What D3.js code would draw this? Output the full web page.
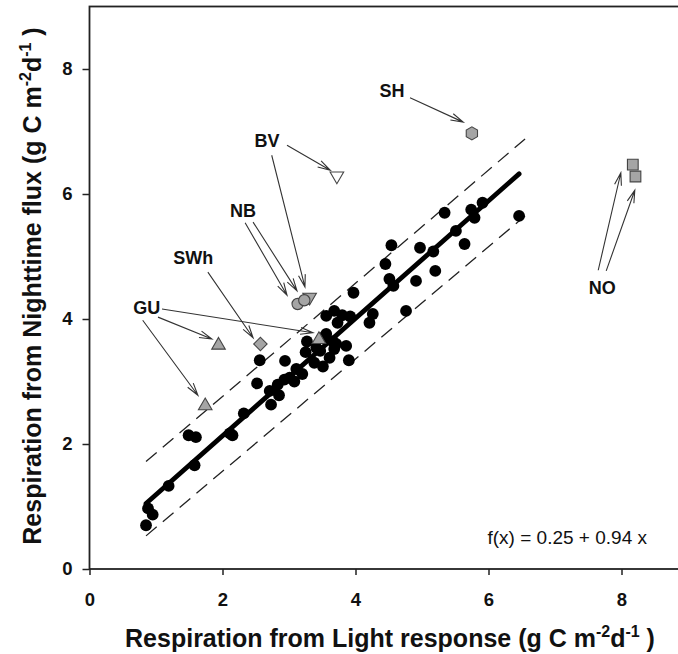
<!DOCTYPE html>
<html>
<head>
<meta charset="utf-8">
<script src="https://cdn.jsdelivr.net/npm/d3@7"></script>
<style>
  html, body { margin: 0; padding: 0; background: #fff; }
  svg { display: block; font-family: "Liberation Sans", Arial, sans-serif; }
</style>
</head>
<body>
<svg id="chart" width="678" height="654"></svg>
<script>
// ---------- data ----------
const xTicks = [0, 2, 4, 6, 8];
const yTicks = [0, 2, 4, 6, 8];

// black site-years: [light response, nighttime flux]
const lightResp = [0.88,0.95,0.85,1.19,1.58,1.49,1.60,2.11,2.15,2.32,2.73,2.71,2.83,2.52,2.93,3.08,2.56,2.94,3.11,3.27,
  3.25,3.47,3.51,3.56,3.66,3.86,3.90,3.56,3.68,3.80,3.92,3.97,4.21,4.26,4.45,4.51,4.57,4.54,4.91,4.76,
  4.97,5.17,5.20,5.34,5.64,5.51,5.74,5.79,5.91,6.46,3.71,3.51,3.01,3.41,3.61,3.68,3.73,2.85,3.20,3.38];
const nightFlux = [0.97,0.87,0.70,1.33,1.66,2.14,2.11,2.17,2.14,2.49,2.63,2.85,2.95,2.97,3.03,3.00,3.34,3.33,3.20,3.64,
  3.47,3.49,3.24,3.76,3.64,3.57,3.34,4.05,4.13,4.06,4.04,4.42,3.94,4.08,4.88,4.64,4.53,5.18,4.61,4.13,
  5.14,5.08,4.77,5.70,5.20,5.41,5.75,5.62,5.86,5.65,3.60,3.70,3.06,3.54,3.38,3.52,3.94,2.78,3.12,3.30];

// outlier sites
const outSite  = ["SH","BV","BV","NB","NB","SWh","GU","GU","GU","NO","NO"];
const outShape = ["hexagon","triDown","triDown","circle","circle","diamond","triUp","triUp","triUp","square","square"];
const outFill  = ["grey","white","grey","grey","grey","grey","grey","grey","grey","grey","grey"];
const outX     = [5.75, 3.72, 3.31, 3.13, 3.23, 2.57, 1.94, 1.74, 3.45, 8.17, 8.21];
const outY     = [6.97, 6.29, 4.35, 4.24, 4.30, 3.60, 3.58, 2.61, 3.67, 6.47, 6.28];

// regression and band
const fitIntercept = 0.25, fitSlope = 0.94, fitRange = [0.85, 6.46];
const bandUpper = [[0.85, 1.72], [6.55, 6.88]];
const bandLower = [[0.85, 0.53], [6.55, 5.65]];

// annotation labels (data coords) and arrows (from -> to, data coords)
const labelText = ["SH","BV","NB","SWh","GU","NO"];
const labelX    = [4.55, 2.67, 2.31, 1.56, 0.86, 7.71];
const labelY    = [7.66, 6.86, 5.74, 4.98, 4.18, 4.51];
const arrowFrom = [[4.82,7.54],[2.97,6.78],[2.74,6.62],[2.34,5.54],[2.46,5.55],[1.78,4.75],[1.09,4.16],[1.03,4.03],[0.80,3.98],[7.65,4.78],[7.77,4.77]];
const arrowTo   = [[5.62,7.15],[3.62,6.38],[3.24,4.51],[2.97,4.38],[3.12,4.45],[2.46,3.70],[3.36,3.78],[1.84,3.68],[1.63,2.78],[7.99,6.34],[8.20,6.06]];

// ---------- drawing ----------
const svg = d3.select("#chart");
const x = d3.scaleLinear().domain([0, 9]).range([89.5, 688]);
const y = d3.scaleLinear().domain([0, 9]).range([569, 6.5]);

// frame
svg.append("rect")
  .attr("x", x(0)).attr("y", y(9))
  .attr("width", x(9) - x(0)).attr("height", y(0) - y(9))
  .attr("fill", "none").attr("stroke", "#222").attr("stroke-width", 1.8);

// axes
const xAxis = svg.append("g").attr("transform", `translate(0,${y(0)})`)
  .call(d3.axisBottom(x).tickValues(xTicks).tickSize(6).tickSizeOuter(0).tickPadding(18).tickFormat(d3.format("d")));
const yAxis = svg.append("g").attr("transform", `translate(${x(0)},0)`)
  .call(d3.axisLeft(y).tickValues(yTicks).tickSize(7).tickSizeOuter(0).tickPadding(10).tickFormat(d3.format("d")));
[xAxis, yAxis].forEach(g => {
  g.select(".domain").remove();
  g.selectAll(".tick line").attr("stroke", "#222").attr("stroke-width", 1.5);
  g.selectAll(".tick text").attr("fill", "#111").style("font-size", "18.5px").style("font-weight", "bold")
    .style("font-family", '"Liberation Sans", Arial, sans-serif');
});

// axis titles
const xt = svg.append("text").attr("x", 390).attr("y", 647).attr("text-anchor", "middle")
  .style("font-size", "25px").style("font-weight", "bold").attr("fill", "#111");
xt.append("tspan").text("Respiration from Light response (g C m");
xt.append("tspan").attr("dy", -10).style("font-size", "16px").text("-2");
xt.append("tspan").attr("dy", 10).text("d");
xt.append("tspan").attr("dy", -10).style("font-size", "16px").text("-1");
xt.append("tspan").attr("dy", 10).text(" )");

const yt = svg.append("text").attr("transform", "translate(41,286) rotate(-90)").attr("text-anchor", "middle")
  .style("font-size", "25px").style("font-weight", "bold").attr("fill", "#111");
yt.append("tspan").text("Respiration from Nighttime flux (g C m");
yt.append("tspan").attr("dy", -10).style("font-size", "16px").text("-2");
yt.append("tspan").attr("dy", 10).text("d");
yt.append("tspan").attr("dy", -10).style("font-size", "16px").text("-1");
yt.append("tspan").attr("dy", 10).text(" )");

// dashed band
[bandUpper, bandLower].forEach(b => {
  svg.append("line")
    .attr("x1", x(b[0][0])).attr("y1", y(b[0][1]))
    .attr("x2", x(b[1][0])).attr("y2", y(b[1][1]))
    .attr("stroke", "#222").attr("stroke-width", 1.3).attr("stroke-dasharray", "14,8");
});

// black points
const pts = lightResp.map((v, i) => [v, nightFlux[i]]);
svg.append("g").selectAll("circle").data(pts).join("circle")
  .attr("cx", d => x(d[0])).attr("cy", d => y(d[1])).attr("r", 5.9).attr("fill", "#000");

// regression line
svg.append("line")
  .attr("x1", x(fitRange[0])).attr("y1", y(fitIntercept + fitSlope * fitRange[0]))
  .attr("x2", x(fitRange[1])).attr("y2", y(fitIntercept + fitSlope * fitRange[1]))
  .attr("stroke", "#000").attr("stroke-width", 4.8).attr("stroke-linecap", "round");

// arrows
function arrowPath(a, b) {
  const x1 = x(a[0]), y1 = y(a[1]), x2 = x(b[0]), y2 = y(b[1]);
  const ang = Math.atan2(y2 - y1, x2 - x1);
  const L = 13, w = 0.27;
  const p1 = [x2 - L * Math.cos(ang - w), y2 - L * Math.sin(ang - w)];
  const p2 = [x2 - L * Math.cos(ang + w), y2 - L * Math.sin(ang + w)];
  return `M${x1},${y1}L${x2},${y2}M${p1[0]},${p1[1]}L${x2},${y2}L${p2[0]},${p2[1]}`;
}
svg.append("g").selectAll("path").data(arrowFrom.map((f, i) => [f, arrowTo[i]])).join("path")
  .attr("d", d => arrowPath(d[0], d[1]))
  .attr("fill", "none").attr("stroke", "#333").attr("stroke-width", 1.1);

// outlier markers
const symType = { triDown: d3.symbolTriangle, triUp: d3.symbolTriangle, circle: d3.symbolCircle, diamond: d3.symbolSquare, square: d3.symbolSquare };
function markerPath(shape) {
  if (shape === "hexagon") {
    const r = 6.5;
    return d3.range(6).map(k => {
      const a = Math.PI / 6 + k * Math.PI / 3;
      return [r * Math.cos(a), r * Math.sin(a)];
    }).map((p, k) => (k ? "L" : "M") + p[0] + "," + p[1]).join("") + "Z";
  }
  const size = { triDown: 80, triUp: 80, circle: 100, diamond: 90, square: 115 }[shape];
  return d3.symbol().type(symType[shape]).size(size)();
}
const outData = outX.map((v, i) => ({ x: v, y: outY[i], shape: outShape[i], fill: outFill[i] }));
svg.append("g").selectAll("path").data(outData).join("path")
  .attr("d", d => markerPath(d.shape))
  .attr("transform", d => {
    let t = `translate(${x(d.x)},${y(d.y)})`;
    if (d.shape === "triDown") t += " rotate(180)";
    if (d.shape === "diamond") t += " rotate(45)";
    return t;
  })
  .attr("fill", d => d.fill === "white" ? "#fff" : "#a5a5a5")
  .attr("stroke", "#444").attr("stroke-width", 1.1);

// labels
svg.append("g").selectAll("text").data(labelText).join("text")
  .attr("x", (d, i) => x(labelX[i])).attr("y", (d, i) => y(labelY[i]) + 6.5)
  .attr("text-anchor", "middle").style("font-size", "18px").style("font-weight", "bold")
  .attr("fill", "#111").text(d => d);

// formula
svg.append("text").attr("x", 647).attr("y", 544).attr("text-anchor", "end")
  .style("font-size", "19px").attr("fill", "#111").text("f(x) = 0.25 + 0.94 x");
</script>
</body>
</html>
